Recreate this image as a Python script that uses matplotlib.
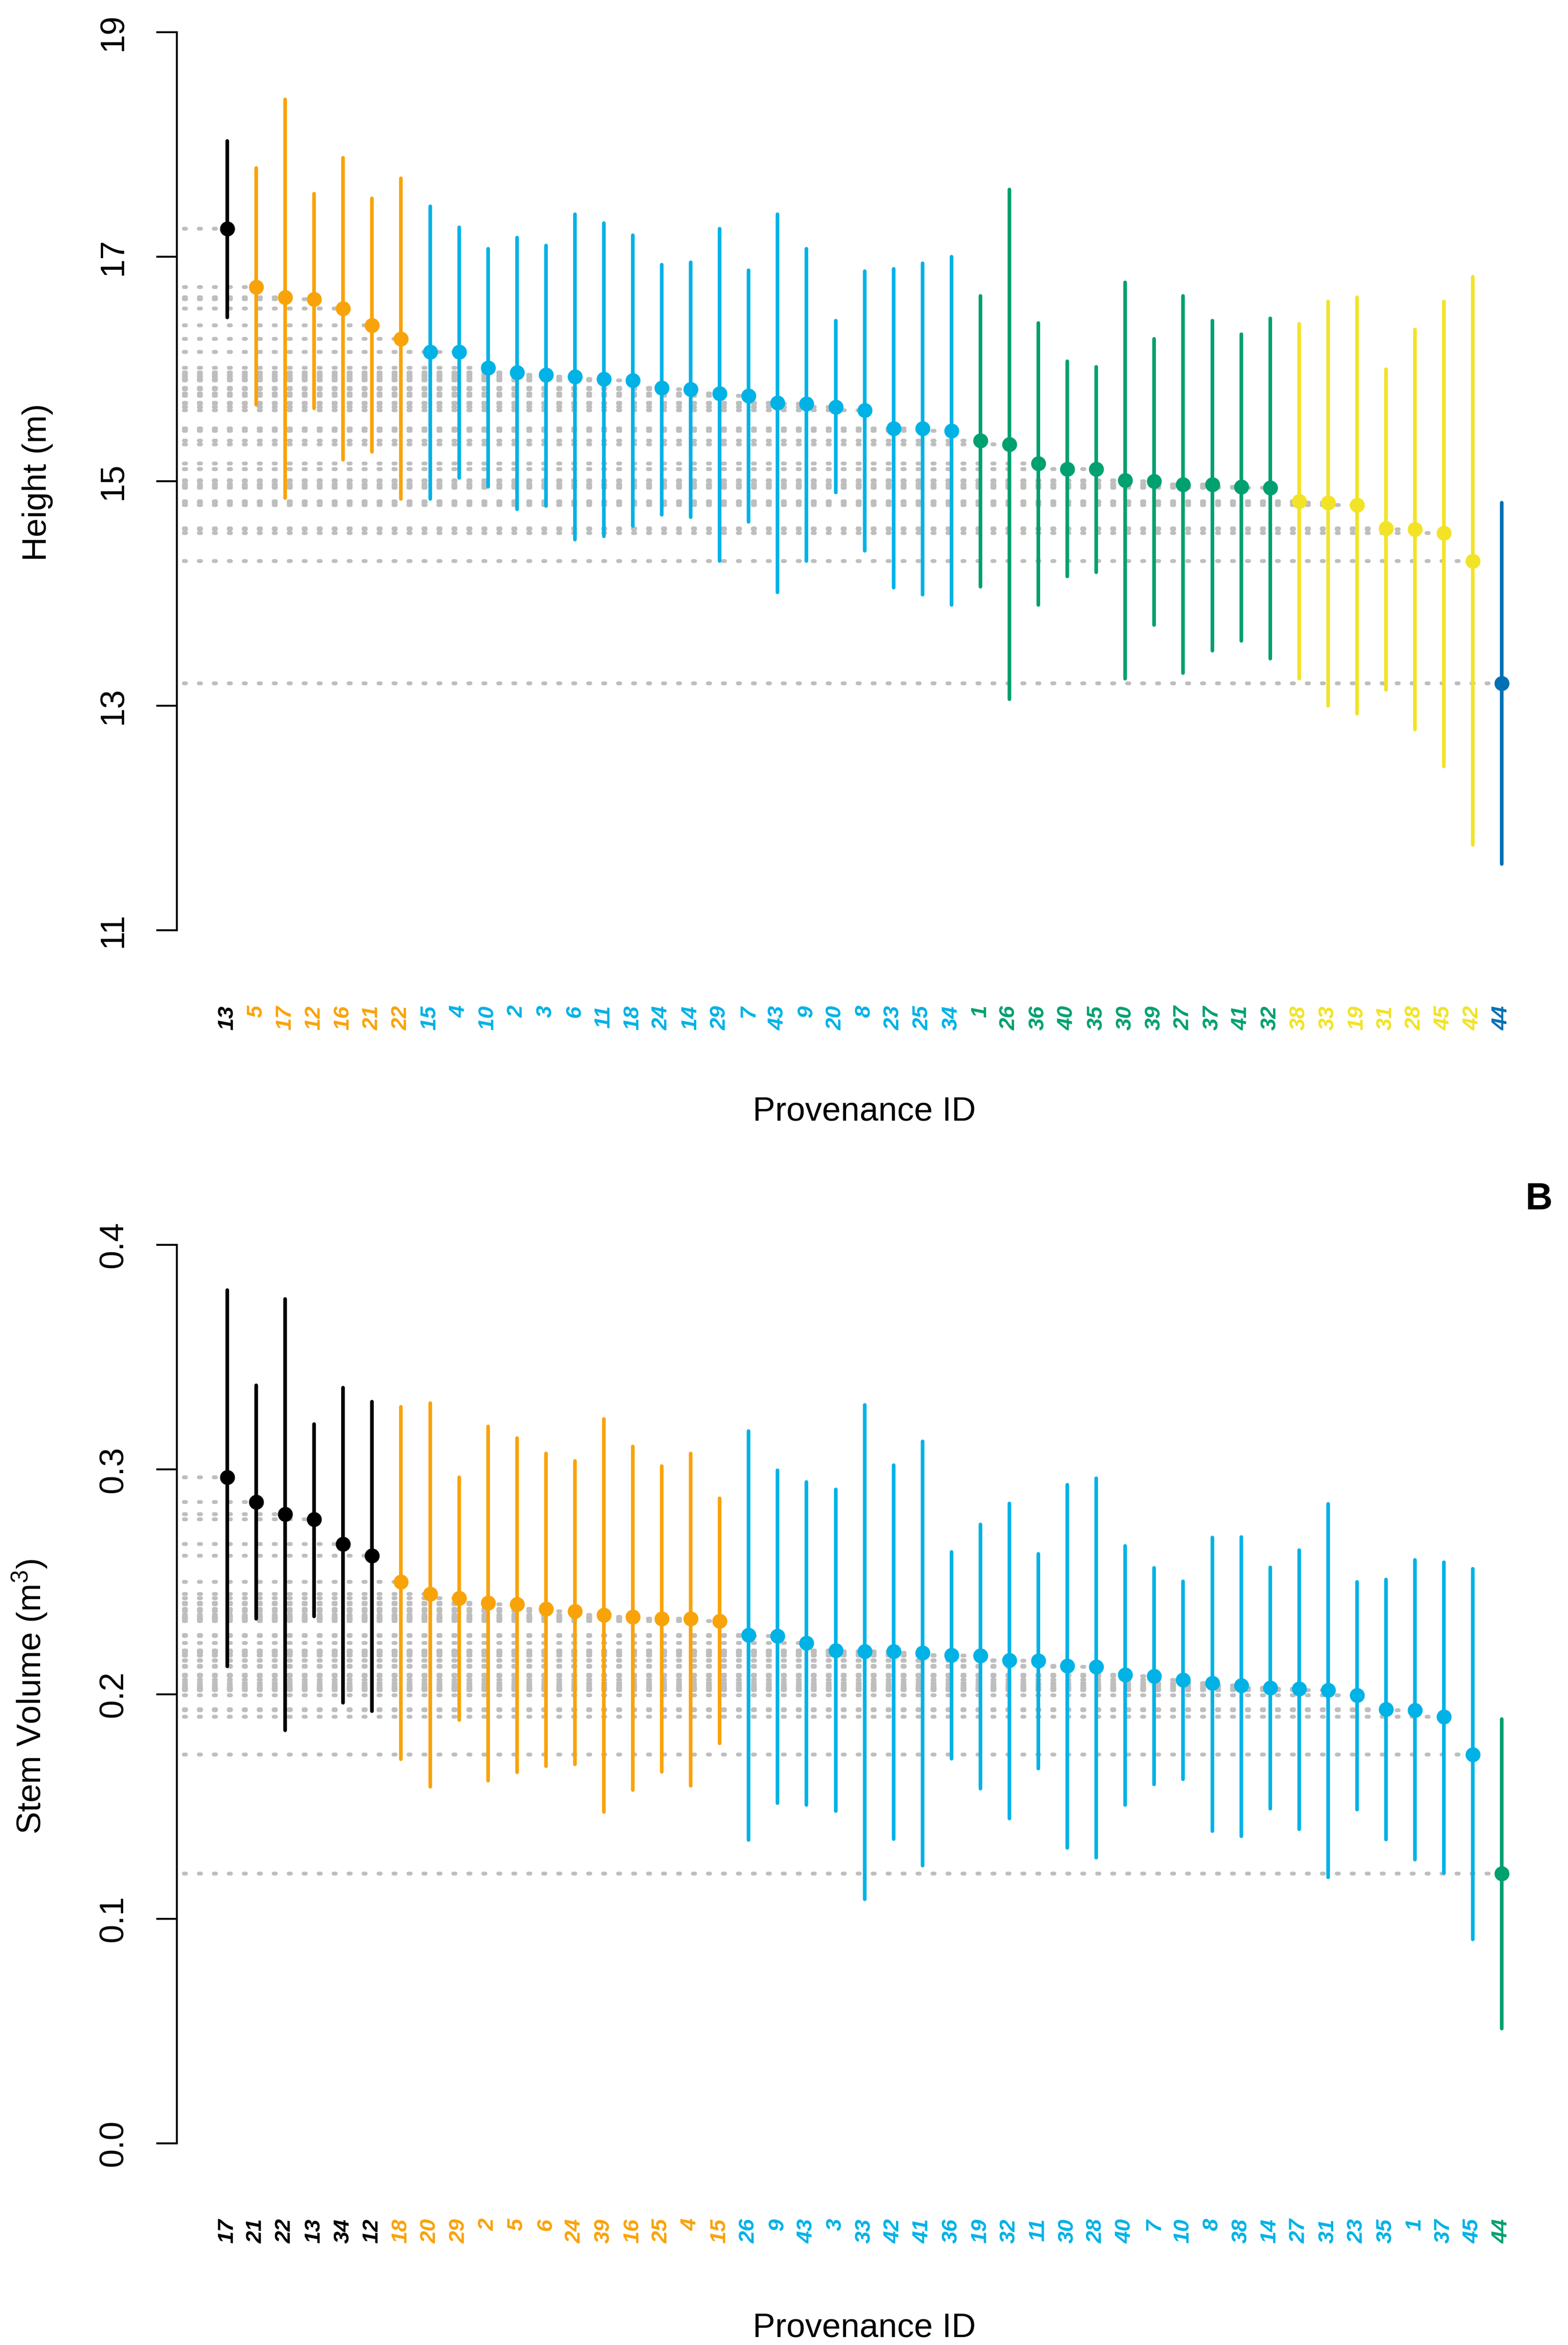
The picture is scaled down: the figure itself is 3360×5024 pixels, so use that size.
import matplotlib
matplotlib.use('Agg')
import matplotlib.pyplot as plt

plt.rcParams['font.family'] = ['Liberation Sans', 'DejaVu Sans']
plt.rcParams['mathtext.fontset'] = 'custom'
plt.rcParams['mathtext.rm'] = 'Liberation Sans'
plt.rcParams['mathtext.it'] = 'Liberation Sans:italic'
plt.rcParams['mathtext.bf'] = 'Liberation Sans:bold'

# ---------------- Panel A: Height ----------------
a_ids = ['13', '5', '17', '12', '16', '21', '22', '15', '4', '10', '2', '3', '6', '11', '18',
         '24', '14', '29', '7', '43', '9', '20', '8', '23', '25', '34', '1', '26', '36', '40',
         '35', '30', '39', '27', '37', '41', '32', '38', '33', '19', '31', '28', '45', '42', '44']
a_mean = [17.25, 16.73, 16.64, 16.62, 16.54, 16.39, 16.27, 16.15, 16.15, 16.01, 15.97, 15.95,
          15.93, 15.91, 15.90, 15.83, 15.82, 15.78, 15.76, 15.70, 15.69, 15.66, 15.63, 15.47,
          15.47, 15.45, 15.36, 15.33, 15.16, 15.11, 15.11, 15.01, 15.00, 14.97, 14.97, 14.95,
          14.94, 14.82, 14.81, 14.79, 14.58, 14.57, 14.54, 14.29, 13.20]
a_upper = [18.03, 17.79, 18.40, 17.56, 17.88, 17.52, 17.70, 17.45, 17.26, 17.07, 17.17, 17.10,
           17.38, 17.30, 17.19, 16.93, 16.95, 17.25, 16.88, 17.38, 17.07, 16.43, 16.87, 16.89,
           16.94, 17.00, 16.65, 17.60, 16.41, 16.07, 16.02, 16.77, 16.27, 16.65, 16.43, 16.31,
           16.45, 16.40, 16.60, 16.64, 16.00, 16.35, 16.60, 16.82, 14.81]
a_lower = [16.46, 15.68, 14.85, 15.65, 15.19, 15.26, 14.84, 14.84, 15.03, 14.95, 14.75, 14.78,
           14.48, 14.51, 14.60, 14.70, 14.68, 14.29, 14.64, 14.01, 14.29, 14.90, 14.38, 14.05,
           13.99, 13.90, 14.06, 13.06, 13.90, 14.15, 14.19, 13.24, 13.72, 13.29, 13.49, 13.58,
           13.42, 13.24, 13.00, 12.93, 13.14, 12.79, 12.46, 11.76, 11.59]
a_group = (['black'] + ['orange'] * 6 + ['sky'] * 19 + ['green'] * 11 +
           ['yellow'] * 7 + ['blue'])
a_yticks = [11, 13, 15, 17, 19]

# ---------------- Panel B: Stem volume ----------------
b_ids = ['17', '21', '22', '13', '34', '12', '18', '20', '29', '2', '5', '6', '24', '39', '16',
         '25', '4', '15', '26', '9', '43', '3', '33', '42', '41', '36', '19', '32', '11', '30',
         '28', '40', '7', '10', '8', '38', '14', '27', '31', '23', '35', '1', '37', '45', '44']
b_mean = [0.2965, 0.2856, 0.2801, 0.2778, 0.2668, 0.2617, 0.2499, 0.2446, 0.2428, 0.2406,
          0.2401, 0.2380, 0.2368, 0.2353, 0.2343, 0.2335, 0.2335, 0.2325, 0.2262, 0.2259,
          0.2227, 0.2194, 0.2191, 0.2191, 0.2184, 0.2174, 0.2171, 0.2151, 0.2149, 0.2126,
          0.2121, 0.2086, 0.2081, 0.2063, 0.2048, 0.2038, 0.2028, 0.2023, 0.2018, 0.1995,
          0.1932, 0.1929, 0.1899, 0.1730, 0.1202]
b_upper = [0.3798, 0.3375, 0.3758, 0.3202, 0.3365, 0.3302, 0.3280, 0.3295, 0.2965, 0.3191,
           0.3139, 0.3071, 0.3038, 0.3224, 0.3103, 0.3015, 0.3071, 0.2872, 0.3171, 0.2997,
           0.2945, 0.2912, 0.3287, 0.3020, 0.3126, 0.2632, 0.2756, 0.2849, 0.2625, 0.2932,
           0.2962, 0.2660, 0.2562, 0.2501, 0.2698, 0.2700, 0.2564, 0.2642, 0.2846, 0.2499,
           0.2511, 0.2597, 0.2587, 0.2557, 0.1889]
b_lower = [0.2123, 0.2335, 0.1839, 0.2345, 0.1962, 0.1924, 0.1710, 0.1587, 0.1884, 0.1615,
           0.1652, 0.1678, 0.1688, 0.1476, 0.1572, 0.1655, 0.1592, 0.1781, 0.1350, 0.1514,
           0.1506, 0.1479, 0.1086, 0.1355, 0.1237, 0.1713, 0.1579, 0.1446, 0.1668, 0.1315,
           0.1272, 0.1506, 0.1597, 0.1620, 0.1390, 0.1368, 0.1489, 0.1398, 0.1184, 0.1486,
           0.1353, 0.1264, 0.1204, 0.0909, 0.0511]
b_group = ['black'] * 6 + ['orange'] * 12 + ['sky'] * 26 + ['green']
b_yticks = [0.0, 0.1, 0.2, 0.3, 0.4]

palette = {'black': '#000000', 'orange': '#F9A30A', 'sky': '#00B2E6',
           'green': '#00A070', 'yellow': '#F2E326', 'blue': '#0070B4'}

W, H = 3360, 5024
DPI = 100
fig = plt.figure(figsize=(W / DPI, H / DPI), dpi=DPI)
fig.patch.set_facecolor('white')

LEFT_PX, RIGHT_PX = 379, 3325


def px_axes(top_px, bottom_px):
    return fig.add_axes([LEFT_PX / W, 1 - bottom_px / H,
                         (RIGHT_PX - LEFT_PX) / W, (bottom_px - top_px) / H])


def draw_panel(ax, ids, mean, lower, upper, group, yticks, ylab, ylab_x_px, ylab_y_px,
               xlab_y_px):
    n = len(ids)
    xs = list(range(1, n + 1))
    cols = [palette[g] for g in group]
    # grey dotted reference lines from axis to each point
    for x, m in zip(xs, mean):
        ax.plot([-0.5, x], [m, m], color='#BEBEBE', lw=6.0,
                linestyle=(0, (0.55, 3.3)), dash_capstyle='round', zorder=1,
                clip_on=False)
    # confidence intervals
    for x, lo, hi, c in zip(xs, lower, upper, cols):
        ax.plot([x, x], [lo, hi], color=c, lw=5.6, solid_capstyle='round',
                zorder=2, clip_on=False)
    # means
    for x, m, c in zip(xs, mean, cols):
        ax.plot([x], [m], 'o', color=c, ms=22, mec=c, zorder=3, clip_on=False)

    ax.set_xlim(-0.74, n + 1.72)
    ax.set_ylim(yticks[0], yticks[-1])
    for s in ['top', 'right', 'bottom']:
        ax.spines[s].set_visible(False)
    ax.spines['left'].set_linewidth(3.0)
    ax.set_yticks(yticks)
    ax.set_yticklabels([('%g' % t) if isinstance(t, int) else ('%.1f' % t) for t in yticks],
                       rotation=90, va='center', ha='right')
    ax.tick_params(axis='y', length=32, width=3.0, pad=42, labelsize=52)
    ax.set_xticks(xs)
    ax.set_xticklabels(ids, rotation=90, va='top', ha='center',
                       fontweight='bold', fontstyle='italic', fontsize=34)
    ax.tick_params(axis='x', length=0, pad=116)
    for lbl, c in zip(ax.get_xticklabels(), cols):
        lbl.set_color(c)
    ax.patch.set_alpha(0)

    fig.text(ylab_x_px / W, 1 - ylab_y_px / H, ylab,
             rotation=90, ha='center', va='center', fontsize=52)
    fig.text((LEFT_PX + RIGHT_PX) / 2 / W, 1 - xlab_y_px / H, 'Provenance ID',
             ha='center', va='center', fontsize=52)


axA = px_axes(69, 1993)
draw_panel(axA, a_ids, a_mean, a_lower, a_upper, a_group, a_yticks,
           'Height (m)', 80, 1033, 2382)

axB = px_axes(2667, 4592)
draw_panel(axB, b_ids, b_mean, b_lower, b_upper, b_group, b_yticks,
           'Stem Volume (m$^{3}$)', 64, 3635, 4988)

fig.text(3298 / W, 1 - 2570 / H, 'B', ha='center', va='center',
         fontsize=58, fontweight='bold')

fig.savefig('out.png', dpi=DPI, facecolor='white')
